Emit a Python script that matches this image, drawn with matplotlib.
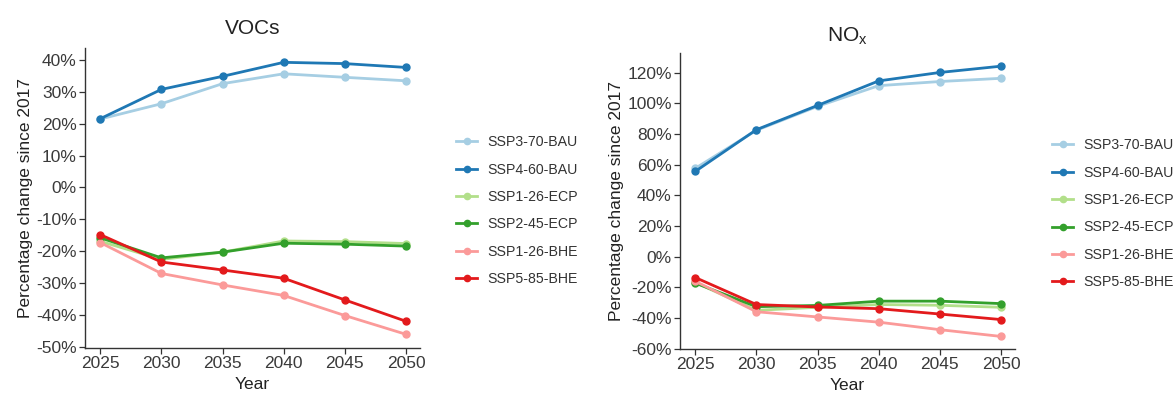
import matplotlib
matplotlib.use("Agg")
import matplotlib.pyplot as plt
from matplotlib.ticker import FuncFormatter

plt.rcParams['font.family'] = ['Liberation Sans', 'DejaVu Sans']

years = [2025, 2030, 2035, 2040, 2045, 2050]
scenarios = ["SSP3-70-BAU", "SSP4-60-BAU", "SSP1-26-ECP",
             "SSP2-45-ECP", "SSP1-26-BHE", "SSP5-85-BHE"]
colors = ["#A6CEE3", "#1F78B4", "#B2DF8A", "#33A02C", "#FB9A99", "#E31A1C"]

# Percentage change since 2017 — VOCs
voc_ssp3_70_bau = [21.5, 26.3, 32.6, 35.7, 34.6, 33.5]
voc_ssp4_60_bau = [21.6, 30.8, 34.9, 39.3, 38.9, 37.7]
voc_ssp1_26_ecp = [-16.9, -22.6, -20.3, -16.8, -17.0, -17.6]
voc_ssp2_45_ecp = [-15.8, -22.1, -20.3, -17.5, -17.8, -18.4]
voc_ssp1_26_bhe = [-17.3, -27.0, -30.6, -33.9, -40.2, -46.1]
voc_ssp5_85_bhe = [-14.8, -23.4, -25.9, -28.5, -35.3, -42.0]

# Percentage change since 2017 — NOx
nox_ssp3_70_bau = [57.6, 82.4, 98.0, 111.5, 114.2, 116.3]
nox_ssp4_60_bau = [55.6, 82.8, 98.6, 114.6, 120.1, 124.2]
nox_ssp1_26_ecp = [-16.8, -35.0, -33.0, -31.2, -31.7, -33.0]
nox_ssp2_45_ecp = [-17.2, -32.6, -31.8, -29.0, -29.0, -30.6]
nox_ssp1_26_bhe = [-16.0, -35.9, -39.3, -42.7, -47.6, -52.0]
nox_ssp5_85_bhe = [-13.6, -31.2, -32.8, -33.9, -37.4, -41.0]

voc_series = [voc_ssp3_70_bau, voc_ssp4_60_bau, voc_ssp1_26_ecp,
              voc_ssp2_45_ecp, voc_ssp1_26_bhe, voc_ssp5_85_bhe]
nox_series = [nox_ssp3_70_bau, nox_ssp4_60_bau, nox_ssp1_26_ecp,
              nox_ssp2_45_ecp, nox_ssp1_26_bhe, nox_ssp5_85_bhe]

fig = plt.figure(figsize=(11.75, 3.94), dpi=100)
ax1 = fig.add_axes([85 / 1175, 46 / 394, 335 / 1175, 300 / 394])
ax2 = fig.add_axes([680 / 1175, 45 / 394, 335 / 1175, 296 / 394])

pct = FuncFormatter(lambda v, _: f"{v:.0f}%")


def draw(ax, series, title, ylim, yticks, legend_anchor, title_pad):
    for name, vals, c in zip(scenarios, series, colors):
        ax.plot(years, vals, color=c, lw=2, marker='o', ms=5,
                label=name, solid_joinstyle='round')
    ax.set_xlim(2023.75, 2051.15)
    ax.set_ylim(*ylim)
    ax.set_xticks(years)
    ax.set_yticks(yticks)
    ax.yaxis.set_major_formatter(pct)
    for s in ("top", "right"):
        ax.spines[s].set_visible(False)
    for s in ("left", "bottom"):
        ax.spines[s].set_color("#333333")
        ax.spines[s].set_linewidth(1.0)
    ax.tick_params(axis='both', direction='out', length=4, width=0.9,
                   color="#333333", labelsize=12.5, labelcolor="#3a3a3a",
                   pad=2)
    ax.set_xlabel("Year", fontsize=12.5, color="#222222")
    ax.xaxis.set_label_coords(0.5, -0.098)
    ax.set_ylabel("Percentage change since 2017", fontsize=12.5,
                  color="#222222", labelpad=2)
    ax.set_title(title, fontsize=15, color="#222222", pad=title_pad)
    ax.legend(loc='upper left', bbox_to_anchor=legend_anchor,
              bbox_transform=fig.transFigure, frameon=False,
              fontsize=10.2, labelcolor="#333333", handlelength=1.5,
              handletextpad=0.7, labelspacing=0.95, borderpad=0,
              markerscale=0.9)


draw(ax1, voc_series, "VOCs", (-50.4, 43.8), range(-50, 41, 10),
     (449 / 1175, 1 - 128 / 394), 10)
draw(ax2, nox_series, "NO$_\\mathregular{x}$", (-60.2, 132.8),
     range(-60, 121, 20), (1045 / 1175, 1 - 131 / 394), 8)

fig.savefig("out.png", dpi=100)
